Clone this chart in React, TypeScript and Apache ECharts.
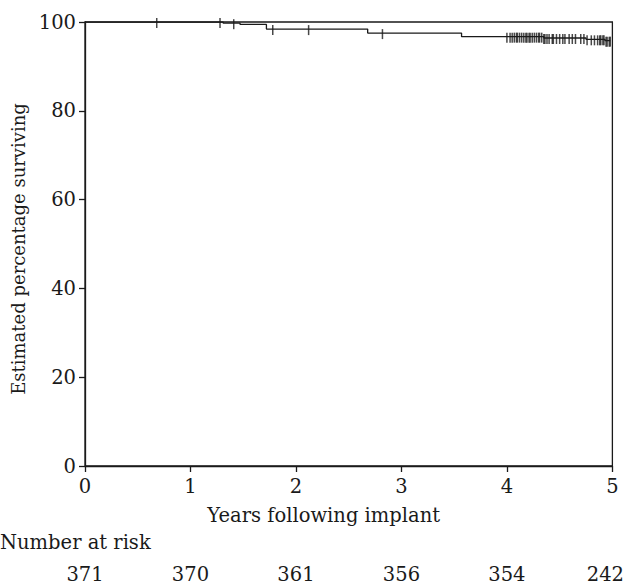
import React, { useEffect, useRef } from "react";
import * as echarts from "echarts";

// Kaplan-Meier step points: time (years) and estimated % surviving after that time
const stepTimes = [0, 1.31, 1.47, 1.72, 2.68, 3.57, 4.35, 4.75, 4.93, 4.98];
const stepSurvival = [100, 99.73, 99.46, 98.4, 97.5, 96.7, 96.4, 96.1, 95.8, 95.8];

// censored observation times (years)
const censorTimes = [
  0.68, 1.28, 1.41, 1.78, 2.12, 2.82,
  4.0, 4.03, 4.05, 4.07, 4.09, 4.1, 4.12, 4.14, 4.16, 4.18, 4.19, 4.21, 4.22,
  4.24, 4.26, 4.28, 4.3, 4.31, 4.33, 4.35, 4.36, 4.38, 4.4, 4.43, 4.44, 4.47,
  4.5, 4.53, 4.55, 4.59, 4.62, 4.65, 4.7, 4.73, 4.76, 4.8, 4.83, 4.86, 4.88,
  4.89, 4.91, 4.92, 4.94, 4.95, 4.97, 4.98,
];

const xTicks = [0, 1, 2, 3, 4, 5];
const numberAtRisk = [371, 370, 361, 356, 354, 242];

const FONT = "DejaVu Serif";
const FS = 19.5;
const INK = "#1a1a1a";

function survivalAt(t: number): number {
  let s = stepSurvival[0];
  for (let i = 0; i < stepTimes.length; i++) {
    if (stepTimes[i] <= t) s = stepSurvival[i];
  }
  return s;
}

export default function App() {
  const ref = useRef<HTMLDivElement>(null);
  useEffect(() => {
    if (!ref.current) return;
    const chart = echarts.init(ref.current, undefined, { renderer: "svg" });
    const lineData = stepTimes.map((t, i) => [t, stepSurvival[i]]);
    const censorData = censorTimes.map((t) => [t, survivalAt(t)]);
    chart.setOption({
      animation: false,
      backgroundColor: "#ffffff",
      title: {
        text: "Number at risk",
        left: 0,
        top: 532,
        textStyle: { fontFamily: FONT, fontSize: FS, fontWeight: "normal", color: INK },
        padding: 0,
      },
      grid: {
        left: 85,
        right: 13,
        top: 22,
        bottom: 117,
        show: true,
        borderColor: INK,
        borderWidth: 1.3,
        backgroundColor: "transparent",
      },
      xAxis: [
        {
          type: "value",
          min: 0,
          max: 5,
          interval: 1,
          name: "Years following implant",
          nameLocation: "middle",
          nameGap: 39,
          nameTextStyle: { fontFamily: FONT, fontSize: FS, color: INK, padding: [0, 50, 0, 0] },
          axisLine: { show: true, lineStyle: { color: INK, width: 1.3 } },
          axisTick: { show: true, length: 6, lineStyle: { color: INK, width: 1.3 } },
          axisLabel: {
            fontFamily: FONT,
            fontSize: FS,
            color: INK,
            margin: 10,
            formatter: (v: number) => (xTicks.includes(v) ? String(v) : ""),
          },
          splitLine: { show: false },
        },
        {
          type: "value",
          min: 0,
          max: 5,
          interval: 1,
          position: "bottom",
          offset: 98,
          axisLine: { show: false },
          axisTick: { show: false },
          splitLine: { show: false },
          axisLabel: {
            fontFamily: FONT,
            fontSize: FS,
            color: INK,
            margin: 0,
            formatter: (v: number) => {
              const i = xTicks.indexOf(v);
              if (i < 0) return "";
              if (i === xTicks.length - 1) return "{last|" + numberAtRisk[i] + "}";
              return String(numberAtRisk[i]);
            },
            rich: {
              last: { fontFamily: FONT, fontSize: FS, color: INK, padding: [0, 14, 0, 0] },
            },
          },
        },
      ],
      yAxis: {
        type: "value",
        min: 0,
        max: 100,
        interval: 20,
        name: "Estimated percentage surviving",
        nameLocation: "middle",
        nameGap: 56,
        nameTextStyle: { fontFamily: FONT, fontSize: 18, color: INK, padding: [0, 10, 0, 0] },
        axisLine: { show: true, lineStyle: { color: INK, width: 1.3 } },
        axisTick: { show: true, length: 6, lineStyle: { color: INK, width: 1.3 } },
        axisLabel: { fontFamily: FONT, fontSize: FS, color: INK, margin: 9 },
        splitLine: { show: false },
      },
      series: [
        {
          type: "line",
          step: "end",
          data: lineData,
          showSymbol: false,
          symbol: "none",
          lineStyle: { color: INK, width: 1.3 },
          xAxisIndex: 0,
        },
        {
          type: "scatter",
          data: censorData,
          symbol: "rect",
          symbolSize: [1.5, 10],
          symbolOffset: [0, 1],
          itemStyle: { color: INK },
          xAxisIndex: 0,
          clip: false,
        },
      ],
    });
    return () => chart.dispose();
  }, []);
  return (
    <div
      ref={ref}
      style={{ position: "fixed", left: 0, top: 0, width: 627, height: 584 }}
    />
  );
}
